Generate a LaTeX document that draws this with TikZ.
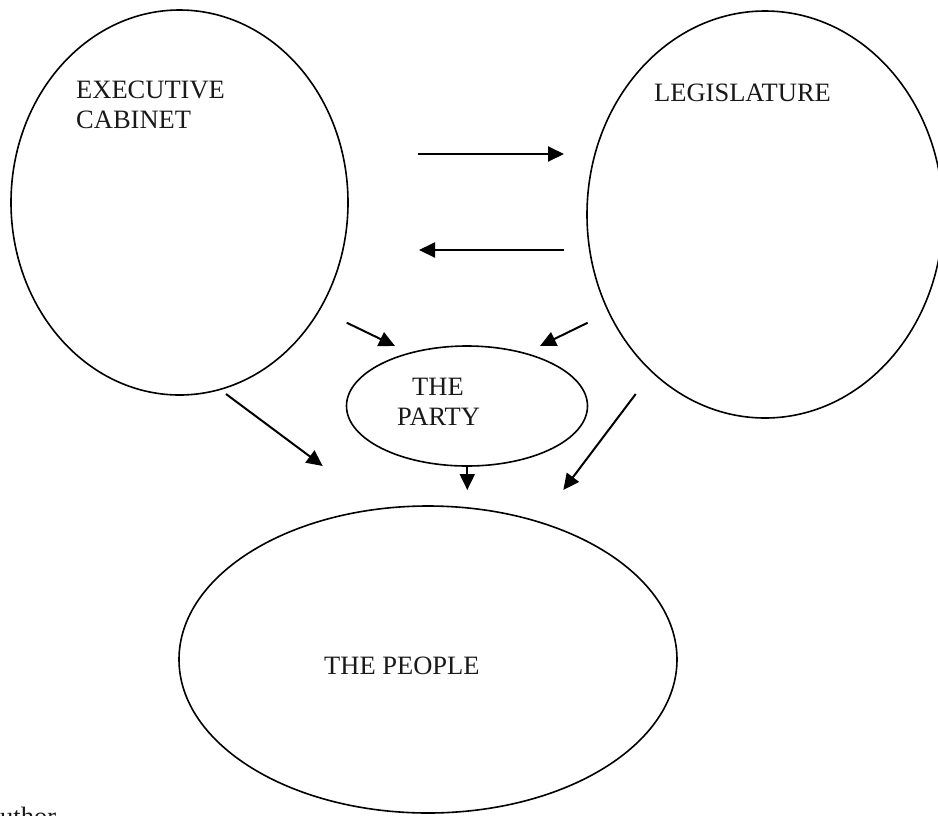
\documentclass[tikz,border=0pt]{standalone}
\usepackage{fontspec}
\setmainfont{Liberation Serif}
\usetikzlibrary{arrows.meta,shapes.geometric}
\begin{document}
\begin{tikzpicture}[x=1pt,y=-1pt,
  oval/.style={draw=black,line width=1.6pt,ellipse,inner sep=0pt},
  lbl/.style={anchor=base west,inner sep=0pt,font=\fontsize{26.5}{30}\selectfont,text=black!90},
  arr/.style={line width=2pt,-{Triangle[length=16pt,width=15pt]}}]
\useasboundingbox (0,0) rectangle (938,815);
\clip (0,0) rectangle (938,815);
% ovals
\node[oval,minimum width=337pt,minimum height=385pt] (exec) at (179.5,202.5) {};
\node[oval,minimum width=356pt,minimum height=407pt] (leg) at (765,214.5) {};
\node[oval,minimum width=241pt,minimum height=120pt] (party) at (467,406) {};
\node[oval,minimum width=498pt,minimum height=307pt] (people) at (428,659.5) {};
% labels
\node[lbl] (execA) at (76,98) {EXECUTIVE};
\node[lbl] (execB) at (76,128) {CABINET};
\node[lbl] (legA) at (654,101) {LEGISLATURE};
\node[lbl] (partyA) at (412,395.7) {THE};
\node[lbl] (partyB) at (397,425.7) {PARTY};
\node[lbl] (peopleA) at (324,674) {THE PEOPLE};
\node[lbl] (author) at (0,825) {uthor};
% arrow end points
\coordinate (a1s) at (418,154);  \coordinate (a1e) at (564,154);
\coordinate (a2s) at (564,250);  \coordinate (a2e) at (419,250);
\coordinate (a3s) at (346.7,322.7); \coordinate (a3e) at (395,346);
\coordinate (a4s) at (587.7,322.7); \coordinate (a4e) at (540,346);
\coordinate (a5s) at (467.3,465.7); \coordinate (a5e) at (467.3,490);
\coordinate (a6s) at (635.7,394); \coordinate (a6e) at (563.3,490);
\coordinate (a7s) at (226,394); \coordinate (a7e) at (322.7,466);
\draw[arr] (a1s) -- (a1e);
\draw[arr] (a2s) -- (a2e);
\draw[arr] (a3s) -- (a3e);
\draw[arr] (a4s) -- (a4e);
\draw[arr] (a5s) -- (a5e);
\draw[arr] (a6s) -- (a6e);
\draw[arr] (a7s) -- (a7e);
\end{tikzpicture}
\end{document}
